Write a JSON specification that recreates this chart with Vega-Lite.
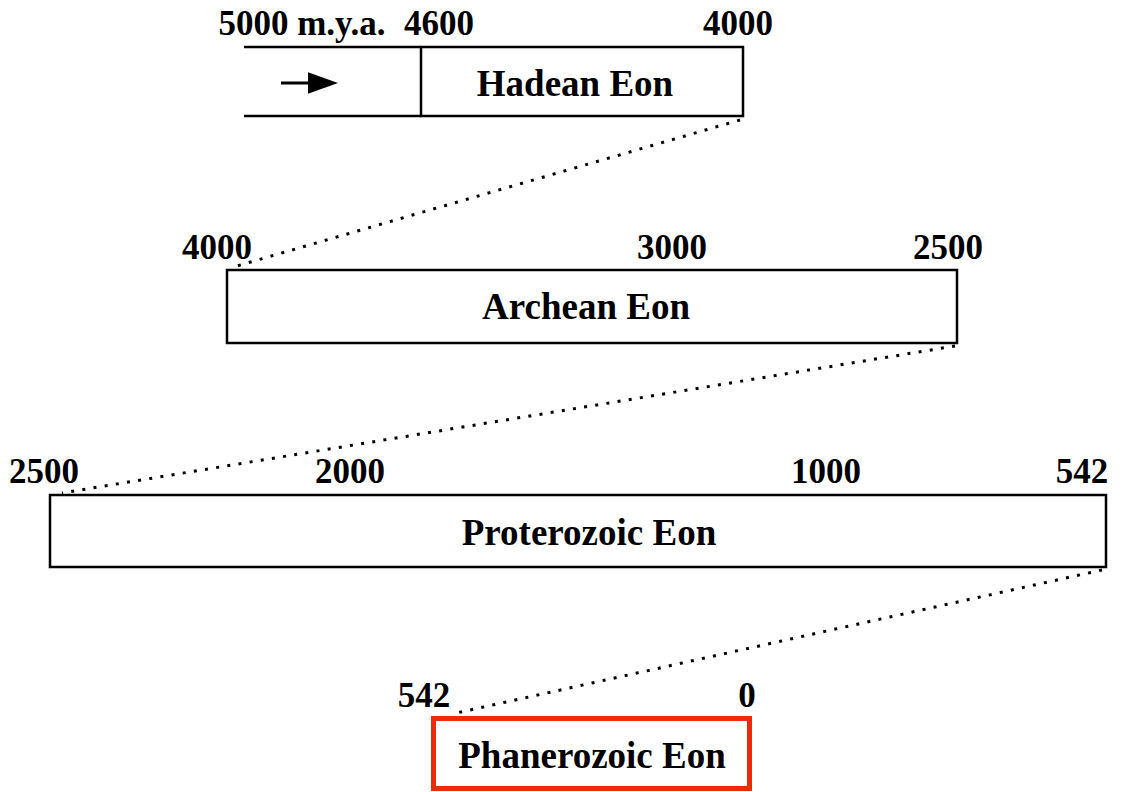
{
  "$schema": "https://vega.github.io/schema/vega-lite/v6.json",
  "width": 1134,
  "height": 792,
  "autosize": {"type": "fit", "contains": "padding"},
  "padding": 0,
  "background": "white",
  "config": {
    "view": {"stroke": null},
    "axis": {"disable": true},
    "text": {"font": "Liberation Serif", "fontWeight": "bold", "color": "black"}
  },
  "datasets": {
    "boxes": [
      {"eon": "Hadean Eon", "left": 421, "right": 743, "top": 47, "bottom": 116, "kind": "plain"},
      {"eon": "Archean Eon", "left": 227, "right": 957, "top": 270, "bottom": 343, "kind": "plain"},
      {"eon": "Proterozoic Eon", "left": 50, "right": 1106, "top": 495, "bottom": 567, "kind": "plain"},
      {"eon": "Phanerozoic Eon", "left": 433.5, "right": 749.5, "top": 718.5, "bottom": 788.5, "kind": "current"}
    ],
    "open": [
      {"left": 244, "right": 421, "level": 47},
      {"left": 244, "right": 421, "level": 116}
    ],
    "eonLabels": [
      {"eon": "Hadean Eon", "cx": 575, "base": 96},
      {"eon": "Archean Eon", "cx": 586, "base": 319},
      {"eon": "Proterozoic Eon", "cx": 589, "base": 545},
      {"eon": "Phanerozoic Eon", "cx": 592, "base": 768}
    ],
    "ages": [
      {"label": "5000 m.y.a.", "cx": 302, "base": 35},
      {"label": "4600", "cx": 439, "base": 35},
      {"label": "4000", "cx": 738, "base": 35},
      {"label": "4000", "cx": 217, "base": 259},
      {"label": "3000", "cx": 672, "base": 259},
      {"label": "2500", "cx": 948, "base": 259},
      {"label": "2500", "cx": 44, "base": 483},
      {"label": "2000", "cx": 350, "base": 483},
      {"label": "1000", "cx": 826, "base": 483},
      {"label": "542", "cx": 1082, "base": 483},
      {"label": "542", "cx": 424, "base": 707},
      {"label": "0", "cx": 747, "base": 707}
    ],
    "links": [
      {"fromX": 740, "fromY": 120, "toX": 230, "toY": 268},
      {"fromX": 955, "fromY": 346, "toX": 62, "toY": 493},
      {"fromX": 1102, "fromY": 570, "toX": 452, "toY": 714}
    ],
    "shaft": [{"from": 281, "to": 310, "level": 83}],
    "head": [{"at": 323, "level": 83}]
  },
  "layer": [
    {
      "data": {"name": "links"},
      "mark": {"type": "rule", "strokeWidth": 3, "strokeDash": [3, 8.3], "strokeCap": "butt", "color": "black"},
      "encoding": {
        "x": {"field": "fromX", "type": "quantitative", "scale": {"domain": [0, 1134], "nice": false, "zero": false}},
        "y": {"field": "fromY", "type": "quantitative", "scale": {"domain": [0, 792], "reverse": true, "nice": false, "zero": false}},
        "x2": {"field": "toX"},
        "y2": {"field": "toY"}
      }
    },
    {
      "data": {"name": "boxes"},
      "transform": [{"filter": "datum.kind === 'plain'"}],
      "mark": {"type": "rect", "fill": "white", "stroke": "black", "strokeWidth": 2.5},
      "encoding": {
        "x": {"field": "left", "type": "quantitative"},
        "x2": {"field": "right"},
        "y": {"field": "top", "type": "quantitative"},
        "y2": {"field": "bottom"}
      }
    },
    {
      "data": {"name": "boxes"},
      "transform": [{"filter": "datum.kind === 'current'"}],
      "mark": {"type": "rect", "fill": "white", "stroke": "#ee2a0c", "strokeWidth": 5},
      "encoding": {
        "x": {"field": "left", "type": "quantitative"},
        "x2": {"field": "right"},
        "y": {"field": "top", "type": "quantitative"},
        "y2": {"field": "bottom"}
      }
    },
    {
      "data": {"name": "open"},
      "mark": {"type": "rule", "strokeWidth": 2.5, "color": "black"},
      "encoding": {
        "x": {"field": "left", "type": "quantitative"},
        "x2": {"field": "right"},
        "y": {"field": "level", "type": "quantitative"}
      }
    },
    {
      "data": {"name": "shaft"},
      "mark": {"type": "rule", "strokeWidth": 3, "color": "black"},
      "encoding": {
        "x": {"field": "from", "type": "quantitative"},
        "x2": {"field": "to"},
        "y": {"field": "level", "type": "quantitative"}
      }
    },
    {
      "data": {"name": "head"},
      "mark": {"type": "point", "shape": "M-1,-0.72L1,0L-1,0.72Z", "filled": true, "color": "black", "opacity": 1, "size": 900},
      "encoding": {
        "x": {"field": "at", "type": "quantitative"},
        "y": {"field": "level", "type": "quantitative"}
      }
    },
    {
      "data": {"name": "eonLabels"},
      "mark": {"type": "text", "fontSize": 37, "align": "center", "baseline": "alphabetic"},
      "encoding": {
        "x": {"field": "cx", "type": "quantitative"},
        "y": {"field": "base", "type": "quantitative"},
        "text": {"field": "eon"}
      }
    },
    {
      "data": {"name": "ages"},
      "mark": {"type": "text", "fontSize": 35, "align": "center", "baseline": "alphabetic"},
      "encoding": {
        "x": {"field": "cx", "type": "quantitative"},
        "y": {"field": "base", "type": "quantitative"},
        "text": {"field": "label"}
      }
    }
  ]
}
